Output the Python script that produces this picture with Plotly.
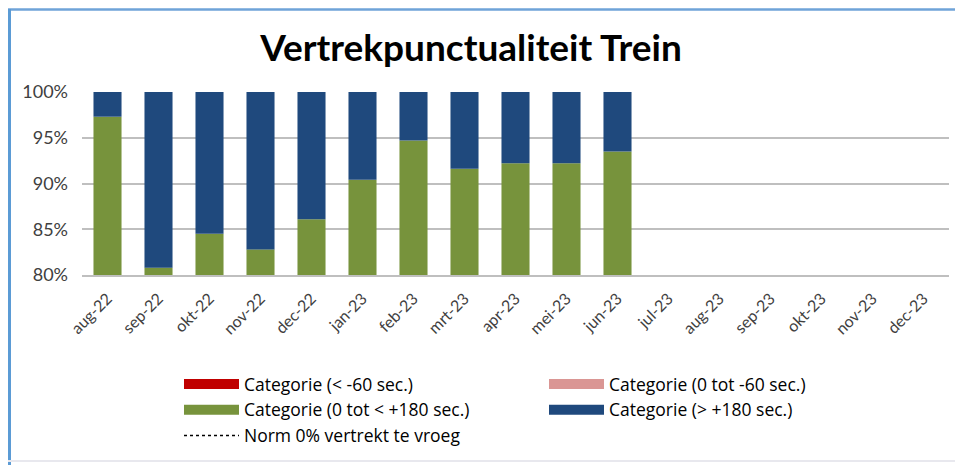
import plotly.graph_objects as go

# maanden op de x-as
maanden = ['aug-22', 'sep-22', 'okt-22', 'nov-22', 'dec-22', 'jan-23', 'feb-23',
           'mrt-23', 'apr-23', 'mei-23', 'jun-23', 'jul-23', 'aug-23', 'sep-23',
           'okt-23', 'nov-23', 'dec-23']

# aandelen per categorie (in %), leeg = nog geen data
te_vroeg_60 = [0, 0, 0, 0, 0, 0, 0, 0, 0, 0, 0] + [None] * 6
te_vroeg_0 = [0, 0, 0, 0, 0, 0, 0, 0, 0, 0, 0] + [None] * 6
op_tijd = [97.3, 80.8, 84.5, 82.8, 86.1, 90.4, 94.7, 91.6, 92.2, 92.2, 93.5] + [None] * 6
te_laat = [2.7, 19.2, 15.5, 17.2, 13.9, 9.6, 5.3, 8.4, 7.8, 7.8, 6.5] + [None] * 6
norm = [0] * 17

# pixel layout; de pagina zet de grafiek 8px naar rechts/onder
OFF = 8
W, H = 963, 465
L, R, T, B = 82 - OFF, 949 - OFF, 92 - OFF, 275 - OFF

def px(x):
    return (x - OFF - L) / (R - L)

def py(y):
    return (B - (y - OFF)) / (B - T)

FONT = "Lato"
series = [
    ('Categorie (< -60 sec.)', te_vroeg_60, '#c00000'),
    ('Categorie (0 tot -60 sec.)', te_vroeg_0, '#da9694'),
    ('Categorie (0 tot < +180 sec.)', op_tijd, '#77933c'),
    ('Categorie (> +180 sec.)', te_laat, '#1f497d'),
]

fig = go.Figure()
# gestapelde staven, as begint bij 80%
groen = [None if v is None else v - 80 for v in op_tijd]
fig.add_trace(go.Bar(x=maanden, y=groen, base=80, marker_color=series[2][2],
                     marker_line_width=0, showlegend=False, name=series[2][0]))
fig.add_trace(go.Bar(x=maanden, y=te_laat, base=op_tijd, marker_color=series[3][2],
                     marker_line_width=0, showlegend=False, name=series[3][0]))

# legenda-items
for naam, waarden, kleur in series:
    fig.add_trace(go.Scatter(x=[None], y=[None], mode='lines', name=naam,
                             line=dict(color=kleur, width=10)))
fig.add_trace(go.Scatter(x=maanden, y=norm, mode='lines', name='Norm 0% vertrekt te vroeg',
                         line=dict(color='#000000', width=1.5, dash='dot')))

fig.update_layout(
    width=W, height=H,
    margin=dict(l=L, r=W - R, t=T, b=H - B, autoexpand=False),
    paper_bgcolor='white', plot_bgcolor='white',
    barmode='overlay', bargap=0.45,
    font=dict(family=FONT, color='#404040'),
    title=dict(text='<b>Vertrekpunctualiteit Trein</b>', x=(471 - OFF) / W, xref='container',
               xanchor='center', y=1 - (48 - OFF) / H, yref='container', yanchor='middle',
               font=dict(size=37, color='#000000', family=FONT)),
    xaxis=dict(tickangle=-45, tickfont=dict(size=16), showgrid=False, automargin=False,
               showline=True, linecolor='#bfbfbf', linewidth=2, ticks='',
               range=[-0.5, 16.5], ticklabelstandoff=6),
    yaxis=dict(range=[80, 100], tickvals=[80, 85, 90, 95, 100], automargin=False,
               ticktext=['80%', '85%', '90%', '95%', '100%'], tickfont=dict(size=18),
               showgrid=True, gridcolor='#bfbfbf', gridwidth=2, zeroline=False,
               showline=False, ticks='', ticklabelstandoff=13),
    legend=dict(orientation='h', xref='container', yref='container',
                x=(183 - 4 - OFF) / W, xanchor='left', y=1 - (366 - OFF) / H, yanchor='top',
                entrywidth=295, entrywidthmode='pixels', itemwidth=55,
                traceorder='normal', font=dict(size=17.5, color='#000000', family='Open Sans'),
                tracegroupgap=0, bgcolor='rgba(0,0,0,0)'),
    showlegend=True,
)

# kader rond de grafiek
fig.add_shape(type='line', xref='paper', yref='paper', x0=px(8), x1=px(980), y0=py(9.5), y1=py(9.5),
              line=dict(color='#6fa3d8', width=2.5))
fig.add_shape(type='line', xref='paper', yref='paper', x0=px(9.5), x1=px(9.5), y0=py(9), y1=py(480),
              line=dict(color='#5b9bd5', width=3))
fig.add_shape(type='line', xref='paper', yref='paper', x0=px(0), x1=px(980), y0=py(461), y1=py(461),
              line=dict(color='#e8e8ee', width=2))

fig.write_html("out.html")
